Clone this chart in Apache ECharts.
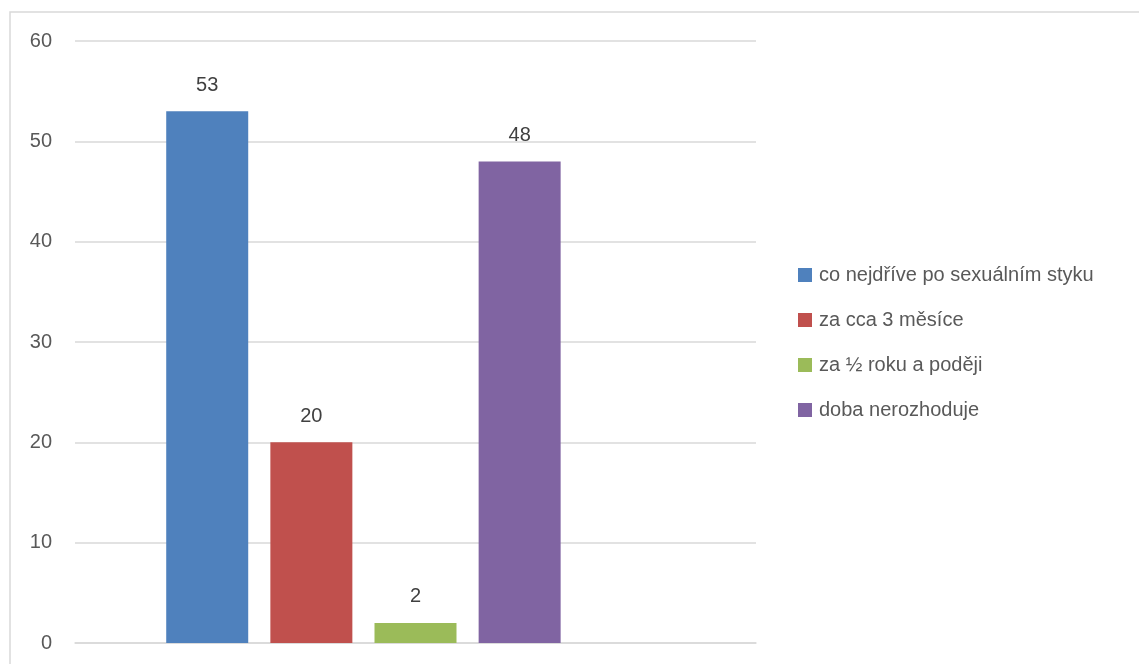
<!DOCTYPE html>
<html>
<head>
<meta charset="utf-8">
<script src="https://cdn.jsdelivr.net/npm/echarts@6/dist/echarts.min.js"></script>
<style>
  html, body { margin: 0; padding: 0; background: #ffffff; }
  #chart { width: 1139px; height: 664px; }
</style>
</head>
<body>
<div id="chart"></div>
<script>
// Answer categories and counts
const seriesNames = [
  'co nejdříve po sexuálním styku',
  'za cca 3 měsíce',
  'za ½ roku a poději',
  'doba nerozhoduje'
];
const seriesValues = [53, 20, 2, 48];
const seriesColors = ['#4F81BD', '#C0504D', '#9BBB59', '#8064A2'];
const categories = [''];
const yTicks = { min: 0, max: 60, interval: 10 };

const FONT = '"Liberation Sans", Arial, sans-serif';

const series = seriesNames.map((name, i) => ({
  name: name,
  type: 'bar',
  data: [seriesValues[i]],
  barWidth: 82,
  barGap: '27%',
  itemStyle: { color: seriesColors[i] },
  label: {
    show: true,
    position: 'top',
    distance: 16,
    color: '#404040',
    fontFamily: FONT,
    fontSize: 20
  }
}));
// empty trailing slot in the category group
series.push({
  name: '',
  type: 'bar',
  data: [null],
  barWidth: 82,
  barGap: '27%',
  itemStyle: { color: 'transparent' }
});

const chart = echarts.init(document.getElementById('chart'), null, { renderer: 'canvas' });
chart.setOption({
  animation: false,
  backgroundColor: '#ffffff',
  graphic: [{
    type: 'rect',
    shape: { x: 10, y: 12, width: 1200, height: 700 },
    style: { fill: 'none', stroke: '#d9d9d9', lineWidth: 1.5 },
    silent: true,
    z: -1
  }],
  grid: { left: 75, right: 383, top: 41, bottom: 21, containLabel: false },
  legend: {
    orient: 'vertical',
    left: 798,
    top: 265,
    padding: 0,
    data: seriesNames,
    itemWidth: 14,
    itemHeight: 14,
    itemGap: 25,
    icon: 'rect',
    textStyle: { color: '#595959', fontFamily: FONT, fontSize: 20, letterSpacing: 0.85, padding: [0, 0, 0, 2] }
  },
  xAxis: {
    type: 'category',
    data: categories,
    axisLine: { show: true, lineStyle: { color: '#d9d9d9', width: 1.5 } },
    axisTick: { show: false },
    axisLabel: { show: false }
  },
  yAxis: {
    type: 'value',
    min: yTicks.min,
    max: yTicks.max,
    interval: yTicks.interval,
    axisLine: { show: false },
    axisTick: { show: false },
    axisLabel: { color: '#595959', fontFamily: FONT, fontSize: 20, margin: 23 },
    splitLine: { lineStyle: { color: '#d9d9d9', width: 1.5 } }
  },
  series: series
});
</script>
</body>
</html>
